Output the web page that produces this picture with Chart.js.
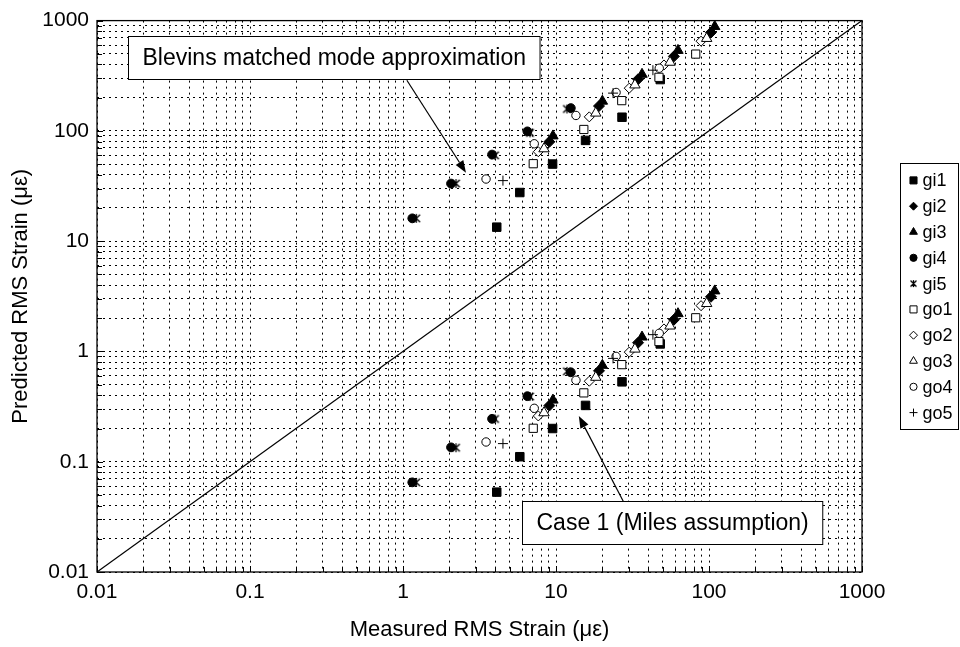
<!DOCTYPE html>
<html>
<head>
<meta charset="utf-8">
<title>RMS strain comparison</title>
<script src="https://cdn.jsdelivr.net/npm/chart.js@4.4.0/dist/chart.umd.min.js"></script>
<style>
  html, body { margin: 0; padding: 0; background: #fff; }
</style>
</head>
<body>
<canvas id="strainChart" width="960" height="647"></canvas>
<script>
// axis decades (labelled ticks), minor ticks are 2..9 within each decade
const decades = [0.01, 0.1, 1, 10, 100, 1000];

// measured strain (x) with predicted strain: Blevins (upper group) and Miles/Case 1 (lower group)
const gi1X = [4.1, 5.8, 9.5, 15.6, 27, 48];
const gi1Blevins = [13.4, 27.6, 50, 82, 133, 292];
const gi1Miles = [0.053, 0.111, 0.2, 0.324, 0.53, 1.17];

const gi2X = [9.05, 19.1, 34.4, 59, 103];
const gi2Blevins = [79.6, 168, 294, 474, 780];
const gi2Miles = [0.323, 0.667, 1.2, 1.94, 3.13];

const gi3X = [9.55, 20.1, 36.5, 62.7, 109];
const gi3Blevins = [90, 186, 326, 537, 883];
const gi3Miles = [0.362, 0.748, 1.35, 2.2, 3.54];

const gi4X = [1.15, 2.06, 3.82, 6.5, 12.5];
const gi4Blevins = [16.1, 33.3, 61, 99, 161];
const gi4Miles = [0.065, 0.135, 0.245, 0.393, 0.647];

const gi5X = [1.22, 2.22, 3.99, 6.76, 11.8];
const gi5Blevins = [16.1, 33.3, 60, 96, 158];
const gi5Miles = [0.065, 0.134, 0.244, 0.39, 0.66];

const go1X = [7.1, 15.2, 26.9, 47.1, 81.9];
const go1Blevins = [50.4, 103, 188, 306, 497];
const go1Miles = [0.201, 0.421, 0.759, 1.23, 2.02];

const go2X = [7.66, 16.5, 30.1, 50.8, 88.7];
const go2Blevins = [64.7, 134, 244, 396, 651];
const go2Miles = [0.26, 0.537, 0.986, 1.6, 2.6];

const go3X = [8.35, 18.2, 32.8, 55.6, 96.6];
const go3Blevins = [68.8, 145, 261, 419, 689];
const go3Miles = [0.278, 0.583, 1.05, 1.7, 2.72];

const go4X = [3.49, 7.21, 13.5, 24.7, 47.3];
const go4Blevins = [36.6, 76.4, 138, 223, 370];
const go4Miles = [0.151, 0.305, 0.548, 0.902, 1.46];

const go5X = [4.5, 23.6, 43];
const go5Blevins = [35.4, 220, 355];
const go5Miles = [0.146, 0.865, 1.42];

// 1:1 reference line
const equalityLine = [0.01, 1000];

const FONT = "'Liberation Sans', Arial, Helvetica, sans-serif";

// asterisk marker (x with a vertical stroke)
function asterisk(size) {
  const c = document.createElement('canvas');
  c.width = c.height = size;
  const g = c.getContext('2d');
  const m = size / 2, r = size / 2 - 1;
  g.strokeStyle = '#000';
  g.lineWidth = 1.3;
  g.beginPath();
  g.moveTo(m - r * 0.85, m - r * 0.85); g.lineTo(m + r * 0.85, m + r * 0.85);
  g.moveTo(m + r * 0.85, m - r * 0.85); g.lineTo(m - r * 0.85, m + r * 0.85);
  g.moveTo(m, m - r); g.lineTo(m, m + r);
  g.stroke();
  return c;
}

function pairs(xs, ys) {
  return xs.map((x, i) => ({ x: x, y: ys[i] }));
}

const series = [
  { label: 'gi1', x: gi1X, hi: gi1Blevins, lo: gi1Miles, style: 'rect', r: 6, fill: true, lr: 5 },
  { label: 'gi2', x: gi2X, hi: gi2Blevins, lo: gi2Miles, style: 'rectRot', r: 5.5, fill: true, lr: 4 },
  { label: 'gi3', x: gi3X, hi: gi3Blevins, lo: gi3Miles, style: 'triangle', r: 6, fill: true, lr: 4.5 },
  { label: 'gi4', x: gi4X, hi: gi4Blevins, lo: gi4Miles, style: 'circle', r: 4.4, fill: true, lr: 3.6 },
  { label: 'gi5', x: gi5X, hi: gi5Blevins, lo: gi5Miles, style: asterisk(11), r: 5, fill: false, lr: 4, img: asterisk(9) },
  { label: 'go1', x: go1X, hi: go1Blevins, lo: go1Miles, style: 'rect', r: 5.8, fill: false, lr: 5 },
  { label: 'go2', x: go2X, hi: go2Blevins, lo: go2Miles, style: 'rectRot', r: 5, fill: false, lr: 4 },
  { label: 'go3', x: go3X, hi: go3Blevins, lo: go3Miles, style: 'triangle', r: 6, fill: false, lr: 4.5 },
  { label: 'go4', x: go4X, hi: go4Blevins, lo: go4Miles, style: 'circle', r: 4.2, fill: false, lr: 3.6 },
  { label: 'go5', x: go5X, hi: go5Blevins, lo: go5Miles, style: 'cross', r: 5, fill: false, lr: 4 }
];

const datasets = series.map((s, i) => ({
  label: s.label,
  data: pairs(s.x, s.hi).concat(pairs(s.x, s.lo)),
  pointStyle: s.style,
  pointRadius: s.r,
  pointBorderWidth: 1,
  pointBorderColor: '#000',
  pointBackgroundColor: s.fill ? '#000' : '#fff',
  showLine: false,
  order: 10 - i
}));

datasets.push({
  label: 'equal',
  data: pairs(equalityLine, equalityLine),
  showLine: true,
  borderColor: '#000',
  borderWidth: 1.2,
  pointRadius: 0,
  order: 30
});

// tick values: 1..9 in every decade
const logTicks = [];
decades.forEach((d, i) => {
  if (i === decades.length - 1) { logTicks.push(d); return; }
  for (let k = 1; k <= 9; k++) logTicks.push(parseFloat((d * k).toPrecision(6)));
});

const tickLabel = v => decades.includes(v) ? String(v) : '';

// border around the plot and short inward tick marks
const frame = {
  id: 'frame',
  beforeDatasetsDraw(chart) {
    const { ctx, chartArea: a, scales: { x, y } } = chart;
    ctx.save();
    ctx.strokeStyle = '#000';
    ctx.lineWidth = 1;
    ctx.beginPath();
    logTicks.forEach(v => {
      const len = decades.includes(v) ? 6 : 5;
      const px = Math.round(x.getPixelForValue(v)) + 0.5;
      ctx.moveTo(px, a.bottom); ctx.lineTo(px, a.bottom - len);
      const py = Math.round(y.getPixelForValue(v)) + 0.5;
      ctx.moveTo(a.left, py); ctx.lineTo(a.left + len, py);
    });
    ctx.stroke();
    ctx.restore();
  },
  afterDatasetsDraw(chart) {
    const { ctx, chartArea: a } = chart;
    ctx.save();
    ctx.strokeStyle = '#000';
    ctx.lineWidth = 1.3;
    ctx.strokeRect(a.left, a.top, a.right - a.left, a.bottom - a.top);
    ctx.restore();
  }
};

// callout boxes with arrows, anchored in data coordinates
const notes = [
  { text: 'Blevins matched mode approximation', left: 0.0159, mid: 459, tail: [1.06, 288], tip: [2.58, 41.8] },
  { text: 'Case 1 (Miles assumption)', left: 6.0, mid: 0.0282, tail: [28, 0.0418], tip: [14.1, 0.26] }
];

const callouts = {
  id: 'callouts',
  afterDraw(chart) {
    const { ctx, scales: { x, y } } = chart;
    ctx.save();
    ctx.font = '23px ' + FONT;
    notes.forEach(n => {
      const tx = x.getPixelForValue(n.tail[0]), ty = y.getPixelForValue(n.tail[1]);
      const hx = x.getPixelForValue(n.tip[0]), hy = y.getPixelForValue(n.tip[1]);
      const ang = Math.atan2(hy - ty, hx - tx);
      const head = 12, half = 4.5;
      const bx = hx - Math.cos(ang) * head, by = hy - Math.sin(ang) * head;
      ctx.strokeStyle = '#000';
      ctx.fillStyle = '#000';
      ctx.lineWidth = 1.2;
      ctx.beginPath();
      ctx.moveTo(tx, ty); ctx.lineTo(bx, by);
      ctx.stroke();
      ctx.beginPath();
      ctx.moveTo(hx, hy);
      ctx.lineTo(bx + Math.sin(ang) * half, by - Math.cos(ang) * half);
      ctx.lineTo(bx - Math.sin(ang) * half, by + Math.cos(ang) * half);
      ctx.closePath();
      ctx.fill();

      const w = ctx.measureText(n.text).width + 28, h = 43;
      const left = Math.round(x.getPixelForValue(n.left)) + 0.5;
      const top = Math.round(y.getPixelForValue(n.mid) - h / 2) + 0.5;
      ctx.fillStyle = '#fff';
      ctx.fillRect(left, top, w, h);
      ctx.lineWidth = 1;
      ctx.strokeRect(left, top, w, h);
      ctx.fillStyle = '#000';
      ctx.textBaseline = 'middle';
      ctx.fillText(n.text, left + 14, top + h / 2 + 1);
    });
    ctx.restore();
  }
};

// boxed legend on the right of the plot
const boxLegend = {
  id: 'boxLegend',
  afterDraw(chart) {
    const { ctx, chartArea: a } = chart;
    const step = 25.8, boxW = 58, boxH = series.length * step + 8;
    const left = a.right + 38.5;
    const top = Math.round((a.top + a.bottom) / 2 - boxH / 2) + 0.5;
    ctx.save();
    ctx.strokeStyle = '#000';
    ctx.lineWidth = 1;
    ctx.strokeRect(left, top, boxW, boxH);
    ctx.font = '18px ' + FONT;
    ctx.textBaseline = 'middle';
    series.forEach((s, i) => {
      const cy = top + 4 + step * (i + 0.5);
      const cx = left + 13;
      ctx.fillStyle = s.fill ? '#000' : '#fff';
      ctx.strokeStyle = '#000';
      ctx.lineWidth = 1;
      const st = s.img || s.style;
      ctx.beginPath();
      Chart.helpers.drawPoint(ctx, { pointStyle: st, radius: s.lr, rotation: 0, borderWidth: 1 }, cx, cy);
      ctx.fillStyle = '#000';
      ctx.fillText(s.label, left + 22, cy + 1);
    });
    ctx.restore();
  }
};

const axisCommon = {
  type: 'logarithmic',
  min: 0.01,
  max: 1000,
  afterBuildTicks: scale => { scale.ticks = logTicks.map(v => ({ value: v })); },
  grid: { color: '#000', lineWidth: 1, drawTicks: false },
  border: { display: false, dash: [2, 4] }
};

new Chart(document.getElementById('strainChart'), {
  type: 'scatter',
  data: { datasets: datasets },
  options: {
    responsive: false,
    animation: false,
    events: [],
    layout: { padding: { left: 0, right: 98, top: 17, bottom: 0 } },
    plugins: { legend: { display: false }, tooltip: { enabled: false } },
    scales: {
      x: Object.assign({}, axisCommon, {
        position: 'bottom',
        afterFit: scale => { scale.height = 75; },
        ticks: { autoSkip: false, maxRotation: 0, padding: 8, color: '#000', font: { family: FONT, size: 21 }, callback: tickLabel },
        title: { display: true, text: 'Measured RMS Strain (\u03bc\u03b5)', color: '#000', font: { family: FONT, size: 22 }, padding: { top: 0, bottom: 4 } }
      }),
      y: Object.assign({}, axisCommon, {
        position: 'left',
        afterFit: scale => { scale.width = 97; },
        ticks: { autoSkip: false, padding: 8, color: '#000', font: { family: FONT, size: 21 }, callback: tickLabel },
        title: { display: true, text: 'Predicted RMS Strain (\u03bc\u03b5)', color: '#000', font: { family: FONT, size: 22 }, padding: { top: 8, bottom: 0 } }
      })
    }
  },
  plugins: [frame, callouts, boxLegend]
});
</script>
</body>
</html>
